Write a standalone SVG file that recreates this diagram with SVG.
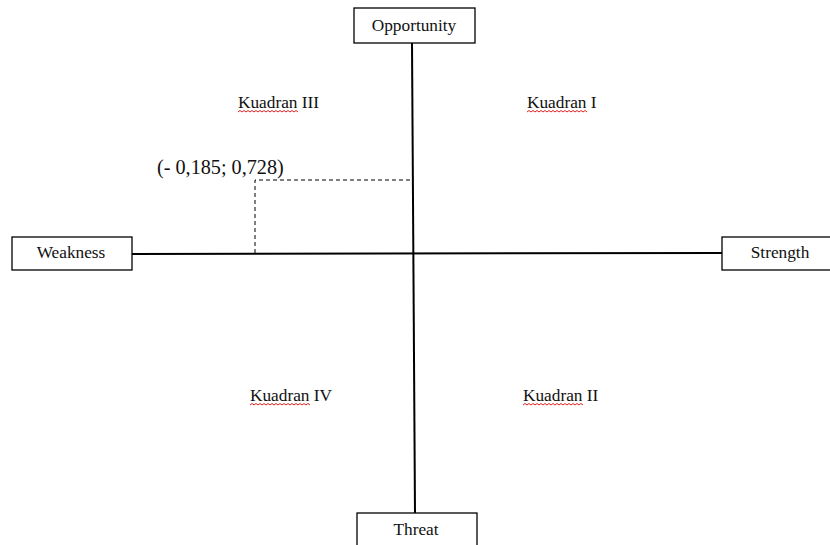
<svg xmlns="http://www.w3.org/2000/svg" width="830" height="545" viewBox="0 0 830 545">
<style>
.box{fill:#fff;stroke:#000;stroke-width:1.3}
.axis{stroke:#000;stroke-width:2;fill:none}
.dash{stroke:#000;stroke-width:1;stroke-dasharray:4 3;fill:none}
text{font-family:"Liberation Serif","Times New Roman",serif;font-size:17.3px;fill:#111}
.sq{stroke:#e02020;stroke-width:1;fill:none}
</style>
<rect width="830" height="545" fill="#fff"/>
<g id="connectors">
<line class="axis" x1="412" y1="43" x2="415" y2="513"/>
<line class="axis" x1="132" y1="254" x2="722" y2="253"/>
<polyline class="dash" points="255,253 255,180 412,180"/>
</g>
<g id="opportunity"><rect class="box" x="354" y="8" width="121" height="35"/><text x="414" y="31" text-anchor="middle">Opportunity</text></g>
<g id="weakness"><rect class="box" x="12" y="237" width="120" height="33"/><text x="71" y="258" text-anchor="middle">Weakness</text></g>
<g id="strength"><rect class="box" x="722" y="237" width="112" height="33"/><text x="780" y="258" text-anchor="middle">Strength</text></g>
<g id="threat"><rect class="box" x="357" y="513" width="120" height="40"/><text x="416" y="535" text-anchor="middle">Threat</text></g>
<g id="point"><text x="157" y="174" style="font-size:20.2px">(- 0,185; 0,728)</text></g>
<g id="kuadran3"><text x="238" y="108">Kuadran III</text><path class="sq" d="M238,112 l2,-1.5 l2,1.5 l2,-1.5 l2,1.5 l2,-1.5 l2,1.5 l2,-1.5 l2,1.5 l2,-1.5 l2,1.5 l2,-1.5 l2,1.5 l2,-1.5 l2,1.5 l2,-1.5 l2,1.5 l2,-1.5 l2,1.5 l2,-1.5 l2,1.5 l2,-1.5 l2,1.5 l2,-1.5 l2,1.5 l2,-1.5 l2,1.5 l2,-1.5 l2,1.5 l2,-1.5 l2,1.5"/></g>
<g id="kuadran1"><text x="527" y="108">Kuadran I</text><path class="sq" d="M527,112 l2,-1.5 l2,1.5 l2,-1.5 l2,1.5 l2,-1.5 l2,1.5 l2,-1.5 l2,1.5 l2,-1.5 l2,1.5 l2,-1.5 l2,1.5 l2,-1.5 l2,1.5 l2,-1.5 l2,1.5 l2,-1.5 l2,1.5 l2,-1.5 l2,1.5 l2,-1.5 l2,1.5 l2,-1.5 l2,1.5 l2,-1.5 l2,1.5 l2,-1.5 l2,1.5 l2,-1.5 l2,1.5"/></g>
<g id="kuadran4"><text x="250" y="401">Kuadran IV</text><path class="sq" d="M250,405 l2,-1.5 l2,1.5 l2,-1.5 l2,1.5 l2,-1.5 l2,1.5 l2,-1.5 l2,1.5 l2,-1.5 l2,1.5 l2,-1.5 l2,1.5 l2,-1.5 l2,1.5 l2,-1.5 l2,1.5 l2,-1.5 l2,1.5 l2,-1.5 l2,1.5 l2,-1.5 l2,1.5 l2,-1.5 l2,1.5 l2,-1.5 l2,1.5 l2,-1.5 l2,1.5 l2,-1.5 l2,1.5"/></g>
<g id="kuadran2"><text x="523" y="401">Kuadran II</text><path class="sq" d="M523,405 l2,-1.5 l2,1.5 l2,-1.5 l2,1.5 l2,-1.5 l2,1.5 l2,-1.5 l2,1.5 l2,-1.5 l2,1.5 l2,-1.5 l2,1.5 l2,-1.5 l2,1.5 l2,-1.5 l2,1.5 l2,-1.5 l2,1.5 l2,-1.5 l2,1.5 l2,-1.5 l2,1.5 l2,-1.5 l2,1.5 l2,-1.5 l2,1.5 l2,-1.5 l2,1.5 l2,-1.5 l2,1.5"/></g>
</svg>
